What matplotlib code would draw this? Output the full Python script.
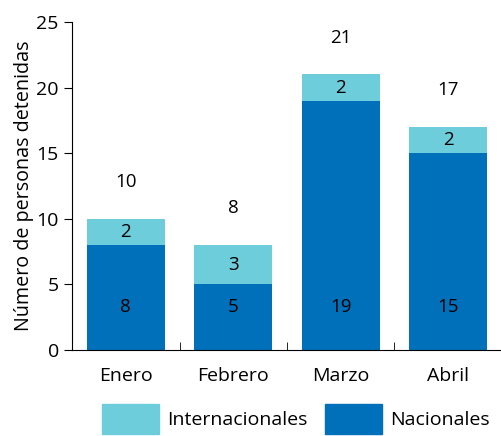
import matplotlib.pyplot as plt
import numpy as np
from matplotlib.patches import Patch

plt.rcParams['font.family'] = ['Open Sans', 'DejaVu Sans']

meses = ['Enero', 'Febrero', 'Marzo', 'Abril']
nacionales = [8, 5, 19, 15]
internacionales = [2, 3, 2, 2]

c_nac = '#0070BA'
c_int = '#6DCDDB'

fig = plt.figure(figsize=(5.02, 4.36), dpi=100)
ax = fig.add_axes([72 / 502, 86 / 436, 430 / 502, 328 / 436])

x = np.arange(len(meses))
totales = np.array(nacionales) + np.array(internacionales)
ax.bar(x, nacionales, width=0.73, color=c_nac)
ax.bar(x, internacionales, width=0.73, bottom=nacionales, color=c_int)

for i in range(len(meses)):
    ax.text(x[i], 3.3, str(nacionales[i]), ha='center', va='center', fontsize=13.5)
    ax.text(x[i], nacionales[i] + internacionales[i] / 2, str(internacionales[i]),
            ha='center', va='center', fontsize=13.5)
    ax.text(x[i], totales[i] + 2.8, str(totales[i]), ha='center', va='center', fontsize=13.5)

ax.set_xlim(-0.5, 3.5)
ax.set_ylim(0, 25)
ax.set_yticks([0, 5, 10, 15, 20, 25])
ax.set_xticks(x)
ax.set_xticklabels(meses)
ax.tick_params(axis='x', length=0, labelsize=14, pad=12)
ax.set_xticks([0.5, 1.5, 2.5, 3.5], minor=True)
ax.tick_params(axis='x', which='minor', direction='in', length=6)
ax.tick_params(axis='y', labelsize=14, length=6)
for s in ['top', 'right']:
    ax.spines[s].set_visible(False)
ax.set_ylabel('Número de personas detenidas', fontsize=14.2, labelpad=2)

handles = [Patch(color=c_int, label='Internacionales'), Patch(color=c_nac, label='Nacionales')]
fig.legend(handles=handles, loc='lower center', bbox_to_anchor=(0.59, -0.035), ncol=2,
           frameon=False, fontsize=14, handlelength=2.9, handleheight=2.0,
           columnspacing=0.9, handletextpad=0.45)

fig.savefig('out.png', dpi=100)
